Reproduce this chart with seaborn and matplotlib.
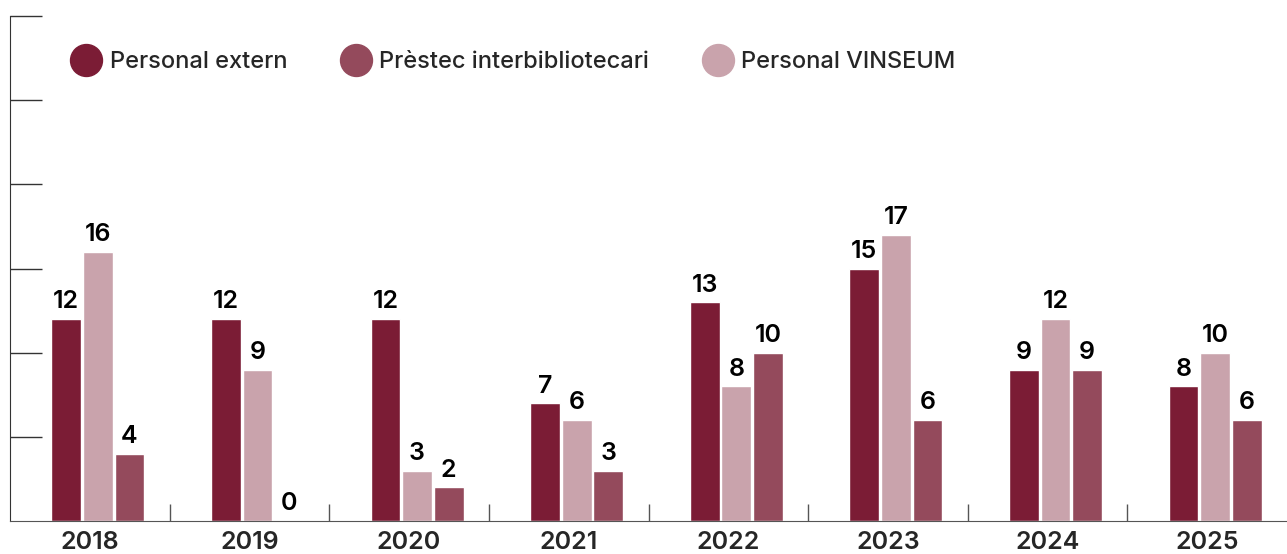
import pandas as pd
import seaborn as sns
import matplotlib.pyplot as plt
from matplotlib.lines import Line2D

# data
years = ['2018', '2019', '2020', '2021', '2022', '2023', '2024', '2025']
personal_extern = [12, 12, 12, 7, 13, 15, 9, 8]
personal_vinseum = [16, 9, 3, 6, 8, 17, 12, 10]
prestec = [4, 0, 2, 3, 10, 6, 9, 6]

series_names = ['Personal extern', 'Personal VINSEUM', 'Prèstec interbibliotecari']
colors = {'Personal extern': '#7b1c35',
          'Personal VINSEUM': '#c9a3ac',
          'Prèstec interbibliotecari': '#944a5c'}

rows = []
for name, vals in zip(series_names, [personal_extern, personal_vinseum, prestec]):
    for y, v in zip(years, vals):
        rows.append({'year': y, 'value': v, 'serie': name})
df = pd.DataFrame(rows)

sns.set_style('white')
plt.rcParams['font.family'] = ['Inter', 'DejaVu Sans']
plt.rcParams['font.weight'] = 600

fig = plt.figure(figsize=(12.87, 5.54), dpi=100)
ax = fig.add_axes([10 / 1287, 33 / 554, 1 - 10 / 1287, 505 / 554])

sns.barplot(data=df, x='year', y='value', hue='serie', hue_order=series_names,
            palette=colors, width=0.595, gap=0.06, saturation=1, legend=False, ax=ax)

# the groups sit a bit right of the category centre in the original
for p in ax.patches:
    p.set_x(p.get_x() + 0.05)

for cont in ax.containers:
    ax.bar_label(cont, padding=4, fontsize=18, color='black', fontweight=600)

ax.set_ylim(0, 30)
ax.set_xlim(-0.5, len(years) - 0.5)
ax.set_yticks([5, 10, 15, 20, 25, 30])
ax.set_yticklabels([])
ax.tick_params(axis='y', direction='in', length=23, width=1, color='#333333', left=True)
ax.set_xticks(range(len(years)))
ax.set_xticklabels(years, fontsize=18, fontweight=600)
ax.tick_params(axis='x', length=0, pad=7)
ax.set_xticks([i + 0.5 for i in range(len(years) - 1)], minor=True)
ax.tick_params(axis='x', which='minor', direction='in', length=12, width=1, color='#555555', bottom=True)
ax.set_xlabel('')
ax.set_ylabel('')

sns.despine(ax=ax, top=True, right=True)
ax.spines['left'].set_color('#333333')
ax.spines['bottom'].set_color('#555555')

# legend with circles, in a different order than the bars
legend_order = ['Personal extern', 'Prèstec interbibliotecari', 'Personal VINSEUM']
handles = [Line2D([], [], marker='o', linestyle='', markersize=23,
                  markerfacecolor=colors[n], markeredgecolor=colors[n]) for n in legend_order]
ax.legend(handles, legend_order, loc='center left', bbox_to_anchor=(0.030, 0.909),
          ncol=3, frameon=False, handletextpad=0.3, columnspacing=2.2,
          handlelength=1.4, prop={'size': 17, 'weight': 500})

fig.savefig('out.png', dpi=100)
